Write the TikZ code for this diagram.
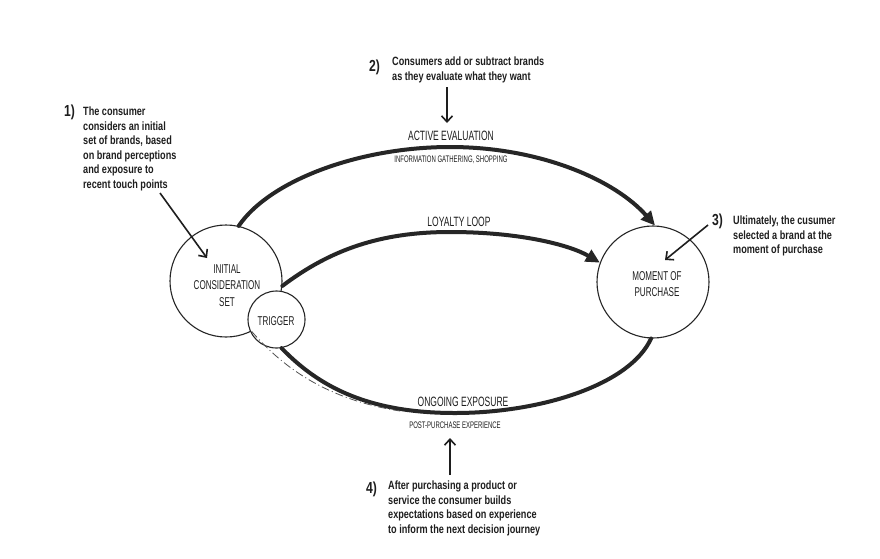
\documentclass[tikz,border=0pt]{standalone}
\usepackage{fontspec}
\usetikzlibrary{arrows.meta}
\newfontfamily\lblfont{Liberation Sans}[FakeStretch=0.63]
\newfontfamily\notefont{Liberation Sans}[FakeStretch=0.76]
\definecolor{ink}{HTML}{1E1E1E}
\definecolor{lineink}{HTML}{262626}
\tikzset{
  circ/.style={circle, draw=lineink, line width=1.1pt, inner sep=0pt},
  flow/.style={draw=lineink, line width=4pt, line cap=round, -{Triangle[length=14pt,width=13pt]}},
  flowplain/.style={draw=lineink, line width=4pt, line cap=round},
  note/.style={anchor=north west, inner sep=0pt, align=left, text=ink, font=\notefont\bfseries\fontsize{12}{14.5}\selectfont},
  num/.style={anchor=north west, inner sep=0pt, text=ink, font=\notefont\bfseries\fontsize{16}{18}\selectfont},
  lbl/.style={anchor=north, inner sep=0pt, align=center, text=ink, font=\lblfont\fontsize{12.8}{16.8}\selectfont},
  biglbl/.style={anchor=north, inner sep=0pt, text=ink, font=\lblfont\fontsize{13.5}{15}\selectfont},
  smalllbl/.style={anchor=north, inner sep=0pt, text=ink, font=\lblfont\fontsize{9.5}{11}\selectfont},
  pointer/.style={draw=ink, line width=1.6pt, -{Straight Barb[length=6pt,width=11pt,line width=1.6pt]}},
  dashdot/.style={draw=lineink!80, line width=0.8pt, dash pattern=on 8pt off 3pt on 1pt off 3pt}
}
\begin{document}
\begin{tikzpicture}[x=1pt,y=-1pt]
\path[use as bounding box, fill=white] (0,0) rectangle (880,558);

% circles
\node[circ, minimum size=112pt] (ics) at (226,281) {};
\node[circ, minimum size=112pt] (mop) at (653,282) {};
\node[circ, minimum size=57pt, fill=white] (trig) at (276.5,319.5) {};

% circle texts
\node[lbl] (icstext) at (227,264) {INITIAL\\CONSIDERATION\\SET};
\node[lbl] (moptext) at (657,271) {MOMENT OF\\PURCHASE};
\node[lbl] (trigtext) at (276,316) {TRIGGER};

% flows
\draw[flow] (ics.77) .. controls (270,180) and (360,147) .. (450,147)
   .. controls (540,147) and (615,180) .. (mop.88);
\draw[flow] (ics.355) .. controls (330,250) and (380,232) .. (450,232)
   .. controls (520,232) and (570,245) .. (mop.160);
\draw[flowplain] (mop.268) .. controls (630,385) and (540,413) .. (455,413)
   .. controls (370,413) and (320,388) .. (trig.280);
\coordinate (ddend) at (400,411);
\draw[dashdot] (ics.297) .. controls (285,370) and (330,400) .. (ddend);

% arc labels
\node[biglbl] (actev) at (451,131) {ACTIVE EVALUATION};
\node[smalllbl] (infog) at (451,156) {INFORMATION GATHERING, SHOPPING};
\node[biglbl] (loyal) at (459,217) {LOYALTY LOOP};
\node[biglbl] (ongo) at (463,397) {ONGOING EXPOSURE};
\node[smalllbl] (postp) at (455,422) {POST-PURCHASE EXPERIENCE};

% annotations
\node[num] (n1) at (64,105) {1)};
\node[note] (t1) at (83,107) {The consumer\\considers an initial\\set of brands, based\\on brand perceptions\\and exposure to\\recent touch points};
\node[num] (n2) at (369,60) {2)};
\node[note] (t2) at (392,57) {Consumers add or subtract brands\\as they evaluate what they want};
\node[num] (n3) at (712,214) {3)};
\node[note] (t3) at (733,216) {Ultimately, the cusumer\\selected a brand at the\\moment of purchase};
\node[num] (n4) at (366,482) {4)};
\node[note] (t4) at (388,481) {After purchasing a product or\\service the consumer builds\\expectations based on experience\\to inform the next decision journey};

% pointer arrows
\coordinate (p1s) at (160,193);
\coordinate (p1e) at (207,258);
\coordinate (p2s) at (447,87);
\coordinate (p2e) at (447,123);
\coordinate (p3s) at (708,225);
\coordinate (p3e) at (665,260);
\coordinate (p4s) at (450,475);
\coordinate (p4e) at (450,438);
\draw[pointer] (p1s) -- (p1e);
\draw[pointer] (p2s) -- (p2e);
\draw[pointer] (p3s) -- (p3e);
\draw[pointer] (p4s) -- (p4e);
\end{tikzpicture}
\end{document}
